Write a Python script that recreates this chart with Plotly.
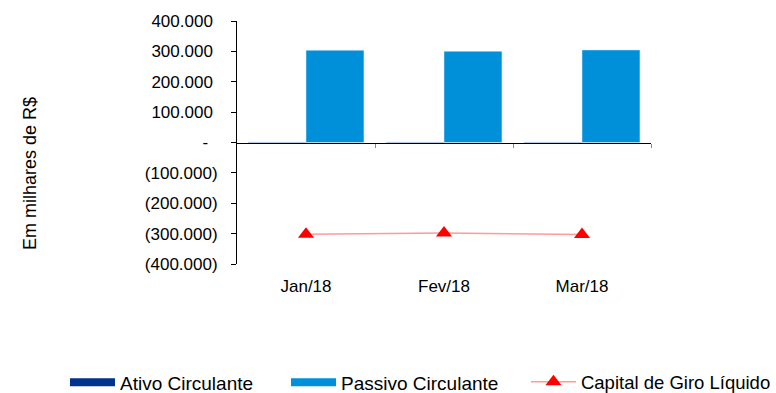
import plotly.graph_objects as go

categories = ["Jan/18", "Fev/18", "Mar/18"]
ativo_circulante = [2000, 2000, 1900]
passivo_circulante = [303800, 300300, 304700]
capital_giro = [-301800, -298300, -302800]

y_tickvals = [400000, 300000, 200000, 100000, 0, -100000, -200000, -300000, -400000]
y_ticktext = ["400.000\u00a0", "300.000\u00a0", "200.000\u00a0", "100.000\u00a0", "-\u00a0\u00a0",
              "(100.000)", "(200.000)", "(300.000)", "(400.000)"]

C_ATIVO = "#00338D"
C_PASSIVO = "#0090DA"
C_LINE = "#FF9A9A"
C_MARK = "#FF0000"
FONT = "Liberation Sans, Arial, sans-serif"

fig = go.Figure()
fig.add_trace(go.Bar(x=categories, y=ativo_circulante, name="Ativo Circulante",
                     marker=dict(color=C_ATIVO), showlegend=False))
fig.add_trace(go.Bar(x=categories, y=passivo_circulante, name="Passivo Circulante",
                     marker=dict(color=C_PASSIVO), showlegend=False))
# legend proxies (wide rectangles like the reference); placed on the zero-line axis
fig.add_trace(go.Scatter(x=[None], y=[None], mode="lines", name="Ativo Circulante",
                         xaxis="x2", legend="legend", line=dict(color=C_ATIVO, width=8)))
fig.add_trace(go.Scatter(x=[None], y=[None], mode="lines", name="Passivo Circulante",
                         xaxis="x2", legend="legend2", line=dict(color=C_PASSIVO, width=8)))
fig.add_trace(go.Scatter(x=categories, y=capital_giro, name="Capital de Giro Líquido",
                         mode="lines+markers", legend="legend3",
                         line=dict(color=C_LINE, width=1.5),
                         marker=dict(symbol="triangle-up", size=14, color=C_MARK)))

leg_common = dict(orientation="h", xanchor="left", y=-0.487, yanchor="middle",
                  itemwidth=45, bgcolor="rgba(0,0,0,0)")

fig.update_layout(
    width=776, height=393,
    margin=dict(l=237, r=125, t=21, b=129, autoexpand=False),
    paper_bgcolor="white", plot_bgcolor="white",
    font=dict(family=FONT, size=17, color="black"),
    barmode="group", bargap=0.16, bargroupgap=0,
    showlegend=True,
    legend=dict(x=-0.4155, font=dict(size=19), **leg_common),
    legend2=dict(x=0.1184, font=dict(size=19), **leg_common),
    legend3=dict(x=0.698, font=dict(size=18.5), **leg_common),
    xaxis=dict(type="category", range=[-0.5, 2.5], showline=False, showgrid=False,
               zeroline=False, ticks="outside", ticklen=7, tickcolor="rgba(0,0,0,0)",
               tickfont=dict(size=17)),
    xaxis2=dict(overlaying="x", anchor="free", position=0.5, range=[-0.5, 2.5],
                tickmode="array", tickvals=[0.5, 1.5, 2.5], showticklabels=False,
                ticks="outside", ticklen=4, tickcolor="#888888", showline=True,
                linecolor="black", linewidth=1, showgrid=False, zeroline=False),
    yaxis=dict(range=[-400000, 400000], tickmode="array", tickvals=y_tickvals,
               ticktext=y_ticktext, showline=True, linecolor="black", linewidth=1,
               ticks="outside", ticklen=5, tickcolor="black", showgrid=False,
               zeroline=False, ticklabelstandoff=10, tickfont=dict(size=17)),
    annotations=[dict(text="Em milhares de R$", xref="paper", yref="paper",
                      x=-0.5, y=0.37, xanchor="center", yanchor="middle",
                      textangle=-90, showarrow=False, font=dict(size=18))],
)

fig.write_html("out.html")
